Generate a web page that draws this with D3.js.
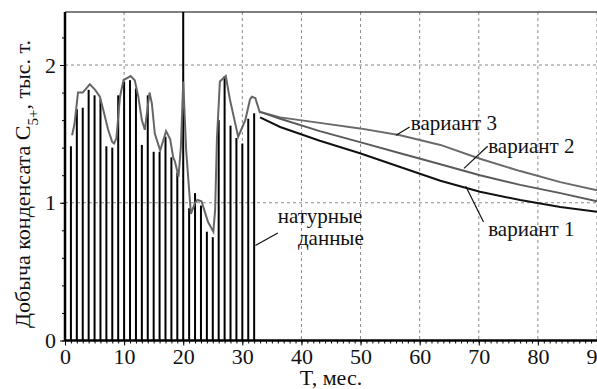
<!DOCTYPE html>
<html>
<head>
<meta charset="utf-8">
<script src="https://cdn.jsdelivr.net/npm/d3@7/dist/d3.min.js"></script>
</head>
<body style="margin:0">
<script>
// фактическая добыча по месяцам (столбцы)
const barMonths = [1, 2, 3, 4, 5, 6, 7, 8, 9, 10, 11, 12, 13, 14, 15, 16,
                   17, 18, 19, 20, 21, 22, 23, 24, 25, 26, 27, 28, 29, 30, 31, 32];
const barValues = [1.41, 1.68, 1.69, 1.82, 1.78, 1.75, 1.41, 1.40, 1.78, 1.88, 1.89, 1.83, 1.42, 1.78, 1.37, 1.37,
                   1.48, 1.33, 1.22, 2.40, 0.96, 1.07, 0.98, 0.79, 0.75, 1.60, 1.92, 1.56, 1.47, 1.43, 1.61, 1.65];

// натурные данные (серая линия)
const natT = [1.2, 1.6, 2.2, 3.0, 4.2, 5.1, 5.9, 6.5, 7.3, 8.0, 8.3, 8.7, 9.3, 9.9, 11.1, 11.8, 12.4, 13.0,
              13.5, 14.3, 14.7, 15.2, 16.1, 17.1, 17.8, 18.3, 18.6, 19.2, 19.6, 20.0, 20.5, 21.3, 22.0, 22.4,
              23.1, 24.2, 25.1, 25.4, 25.7, 26.2, 27.2, 27.9, 29.3, 30.5, 31.3, 31.6, 32.2, 33.0];
const natV = [1.49, 1.57, 1.80, 1.80, 1.86, 1.82, 1.77, 1.67, 1.53, 1.44, 1.43, 1.47, 1.77, 1.89, 1.92, 1.89, 1.77, 1.60,
              1.53, 1.80, 1.72, 1.50, 1.38, 1.52, 1.46, 1.33, 1.30, 1.19, 1.40, 1.88, 1.38, 0.92, 1.00, 1.02,
              1.01, 0.86, 0.79, 0.95, 1.46, 1.88, 1.92, 1.75, 1.48, 1.60, 1.75, 1.77, 1.76, 1.65];

// прогнозные варианты
const fcT = [33, 36.4, 43.1, 49.9, 56.7, 63.5, 70.2, 77, 83.8, 90];
const var1 = [1.62, 1.55, 1.45, 1.36, 1.26, 1.16, 1.08, 1.02, 0.97, 0.935];
const var2 = [1.66, 1.61, 1.52, 1.44, 1.36, 1.28, 1.20, 1.13, 1.07, 1.01];
const var3 = [1.66, 1.62, 1.58, 1.54, 1.49, 1.42, 1.32, 1.23, 1.15, 1.09];

// подписи осей
const xTicks = [0, 10, 20, 30, 40, 50, 60, 70, 80, 90];
const yTicks = [0, 1, 2];

const FONT = 'Liberation Serif';

// размеры
const W = 597, H = 389;
const margin = { top: 12, right: 0, bottom: 48.5, left: 65 };
const width = W - margin.left - margin.right;
const height = H - margin.top - margin.bottom;

const svg = d3.select('body')
    .append('svg')
    .attr('width', W)
    .attr('height', H);

const g = svg.append('g')
    .attr('transform', `translate(${margin.left},${margin.top})`);

const x = d3.scaleLinear().domain([0, 90]).range([0, width]);
const y = d3.scaleLinear().domain([0, 2.385]).range([height, 0]);

g.append('clipPath').attr('id', 'clip')
    .append('rect').attr('width', width).attr('height', height);

// сетка пунктиром
g.append('g')
    .selectAll('line')
    .data(xTicks.slice(1))
    .join('line')
    .attr('x1', d => x(d)).attr('x2', d => x(d))
    .attr('y1', 0).attr('y2', height)
    .attr('stroke', '#8a8a8a')
    .attr('stroke-dasharray', '3,3');

g.append('g')
    .selectAll('line')
    .data(yTicks.slice(1))
    .join('line')
    .attr('x1', 0).attr('x2', width)
    .attr('y1', d => y(d)).attr('y2', d => y(d))
    .attr('stroke', '#8a8a8a')
    .attr('stroke-dasharray', '3,3');

// столбцы
const plot = g.append('g').attr('clip-path', 'url(#clip)');

plot.selectAll('.bar')
    .data(barMonths.map((m, i) => ({ m, v: barValues[i] })))
    .join('rect')
    .attr('class', 'bar')
    .attr('x', d => x(d.m) - 1)
    .attr('width', 2)
    .attr('y', d => y(d.v))
    .attr('height', d => height - y(d.v))
    .attr('fill', '#000');

const line = d3.line().x(d => x(d[0])).y(d => y(d[1]));

// натурные данные
plot.append('path')
    .datum(natT.map((t, i) => [t, natV[i]]))
    .attr('d', line)
    .attr('fill', 'none')
    .attr('stroke', '#666')
    .attr('stroke-width', 2);

// варианты прогноза
[[var3, '#6a6a6a'], [var2, '#5a5a5a'], [var1, '#111']].forEach(([vals, col]) => {
    plot.append('path')
        .datum(fcT.map((t, i) => [t, vals[i]]))
        .attr('d', line)
        .attr('fill', 'none')
        .attr('stroke', col)
        .attr('stroke-width', 2);
});

// оси
const xMinor = g.append('g')
    .attr('transform', `translate(0,${height})`)
    .call(d3.axisBottom(x).ticks(90).tickSize(3).tickFormat(''));
xMinor.select('.domain').remove();

const xAxis = g.append('g')
    .attr('transform', `translate(0,${height})`)
    .call(d3.axisBottom(x).tickValues(xTicks).tickSize(5).tickPadding(3).tickFormat(d3.format('d')));
xAxis.select('.domain').remove();

const yMinor = g.append('g')
    .call(d3.axisLeft(y).tickValues(d3.range(0, 2.39, 0.2)).tickSize(3).tickFormat(''));
yMinor.select('.domain').remove();

const yAxis = g.append('g')
    .call(d3.axisLeft(y).tickValues(yTicks).tickSize(5).tickPadding(4).tickFormat(d3.format('d')));
yAxis.select('.domain').remove();

g.selectAll('.tick text')
    .attr('font-size', 22)
    .attr('fill', '#111');
g.selectAll('.tick line').attr('stroke', '#000');

// рамка: толстые оси слева и снизу, тонкая сверху
g.append('line').attr('x1', 0).attr('x2', 0).attr('y1', 0).attr('y2', height)
    .attr('stroke', '#000').attr('stroke-width', 2.5);
g.append('line').attr('x1', 0).attr('x2', width).attr('y1', height).attr('y2', height)
    .attr('stroke', '#000').attr('stroke-width', 2.5);
g.append('line').attr('x1', 0).attr('x2', width).attr('y1', 0).attr('y2', 0)
    .attr('stroke', '#000').attr('stroke-width', 1.2);

// подписи осей
svg.append('text')
    .attr('x', margin.left + width / 2)
    .attr('y', 385)
    .attr('text-anchor', 'middle')
    .attr('font-size', 22)
    .attr('fill', '#111')
    .text('T, мес.');

const yt = svg.append('text')
    .attr('transform', `translate(30,${margin.top + 172}) rotate(-90)`)
    .attr('text-anchor', 'middle')
    .attr('font-size', 22)
    .attr('fill', '#111');
yt.append('tspan').text('Добыча конденсата C');
yt.append('tspan').attr('baseline-shift', 'sub').attr('font-size', 15).text('5+');
yt.append('tspan').text(', тыс. т.');

// аннотации с выносками
const notes = [
    { lines: ['вариант 3'], tx: 58.5, ty: 1.53, from: [58.3, 1.55], to: [56.0, 1.49] },
    { lines: ['вариант 2'], tx: 71.6, ty: 1.36, from: [71.5, 1.41], to: [67.5, 1.25] },
    { lines: ['вариант 1'], tx: 71.6, ty: 0.76, from: [70.8, 0.86], to: [67.8, 1.12] },
    { lines: ['натурные', 'данные'], tx: 36.0, ty: 0.85, dx2: 3.4, from: [36.0, 0.78], to: [32.2, 0.69] }
];

notes.forEach(n => {
    g.append('line')
        .attr('x1', x(n.from[0])).attr('y1', y(n.from[1]))
        .attr('x2', x(n.to[0])).attr('y2', y(n.to[1]))
        .attr('stroke', '#111').attr('stroke-width', 1.2);
    n.lines.forEach((s, i) => {
        g.append('text')
            .attr('x', x(n.tx + (i ? n.dx2 : 0)))
            .attr('y', y(n.ty) + i * 22)
            .attr('font-size', 21)
            .attr('fill', '#111')
            .text(s);
    });
});

// шрифт с засечками на все подписи
svg.selectAll('text').attr('font-family', FONT);
</script>
</body>
</html>
